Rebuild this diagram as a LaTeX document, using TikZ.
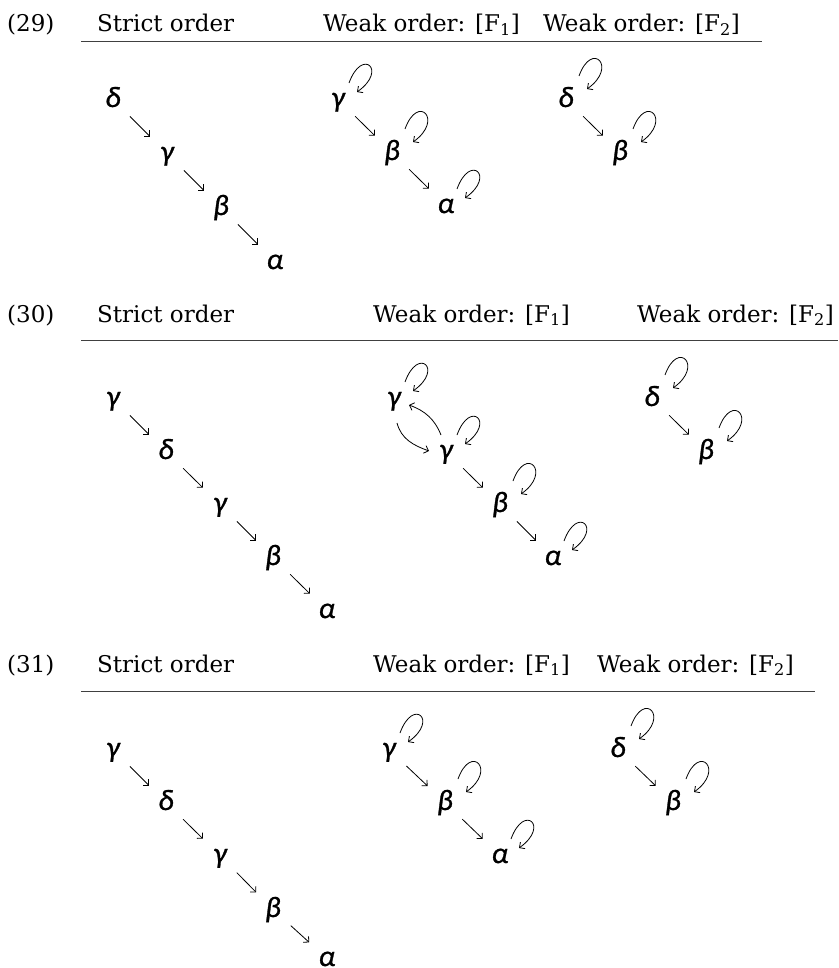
\documentclass[tikz,border=0pt]{standalone}
\usepackage{fontspec}
\setmainfont{DejaVu Serif}
\newfontfamily\grkfont{Carlito}[ItalicFeatures={FakeBold=1}]
\usetikzlibrary{arrows.meta}
\newcommand{\xloop}[1]{\draw[arr] ([shift={(11,24)}]#1.base) .. controls +(13,36) and +(31,22) .. ([shift={(19,15)}]#1.base);}
\newcommand{\aloop}[1]{\draw[arr] ([shift={(13,31)}]#1.base) .. controls +(13,36) and +(31,22) .. ([shift={(21,18)}]#1.base);}
\begin{document}
\begin{tikzpicture}[x=1pt,y=1pt,
  hd/.style={anchor=base west, inner sep=0pt, font=\fontsize{23}{28}\selectfont},
  gk/.style={anchor=base, inner sep=0pt, text height=19pt, text depth=4pt, font=\grkfont\itshape\fontsize{29.5}{32}\selectfont},
  arr/.style={line width=0.8pt, -{Straight Barb[length=4pt,width=8pt]}},
  sarr/.style={arr, shorten <=24pt, shorten >=24pt},
  rul/.style={line width=1pt, black!75}]
\useasboundingbox (0,0) rectangle (838,-968);

% ---------- (29)
\node[hd] (n29) at (7,-32) {(29)};
\node[hd] (s29) at (97,-32) {Strict order};
\node[hd] (wa29) at (323,-32) {Weak order: [F\textsubscript{1}]};
\node[hd] (wb29) at (543,-32) {Weak order: [F\textsubscript{2}]};
\draw[rul] (81,-42) -- (762,-42);

\node[gk] (a1) at (113,-107) {δ};
\node[gk] (a2) at (167,-161) {γ};
\node[gk] (a3) at (221,-215) {β};
\node[gk] (a4) at (275,-269) {α};
\draw[sarr] (a1.center) -- (a2.center);
\draw[sarr] (a2.center) -- (a3.center);
\draw[sarr] (a3.center) -- (a4.center);

\node[gk] (b1) at (338,-107) {γ};
\node[gk] (b2) at (392,-160) {β};
\node[gk] (b3) at (446,-213) {α};
\draw[sarr] (b1.center) -- (b2.center);
\draw[sarr] (b2.center) -- (b3.center);
\xloop{b1} \aloop{b2} \xloop{b3}

\node[gk] (c1) at (566,-107) {δ};
\node[gk] (c2) at (620,-160) {β};
\draw[sarr] (c1.center) -- (c2.center);
\aloop{c1} \aloop{c2}

% ---------- (30)
\node[hd] (n30) at (7,-322) {(30)};
\node[hd] (s30) at (97,-322) {Strict order};
\node[hd] (wa30) at (373,-322) {Weak order: [F\textsubscript{1}]};
\node[hd] (wb30) at (637,-322) {Weak order: [F\textsubscript{2}]};
\draw[rul] (81,-340) -- (838,-340);

\node[gk] (d1) at (113,-406) {γ};
\node[gk] (d2) at (166,-459) {δ};
\node[gk] (d3) at (220,-512) {γ};
\node[gk] (d4) at (273,-565) {β};
\node[gk] (d5) at (327,-618) {α};
\draw[sarr] (d1.center) -- (d2.center);
\draw[sarr] (d2.center) -- (d3.center);
\draw[sarr] (d3.center) -- (d4.center);
\draw[sarr] (d4.center) -- (d5.center);

\node[gk] (e1) at (394,-406) {γ};
\node[gk] (e2) at (446,-459) {γ};
\node[gk] (e3) at (500,-512) {β};
\node[gk] (e4) at (553,-565) {α};
\draw[arr] ([shift={(-5,24)}]e2.base) to[out=112,in=-20] ([shift={(15,1)}]e1.base);
\draw[arr] ([shift={(3,-17)}]e1.base) to[out=-75,in=160] ([shift={(-17,8)}]e2.base);
\draw[sarr] (e2.center) -- (e3.center);
\draw[sarr] (e3.center) -- (e4.center);
\xloop{e1} \xloop{e2} \aloop{e3} \xloop{e4}

\node[gk] (f1) at (652,-406) {δ};
\node[gk] (f2) at (706,-459) {β};
\draw[sarr] (f1.center) -- (f2.center);
\aloop{f1} \aloop{f2}

% ---------- (31)
\node[hd] (n31) at (7,-672) {(31)};
\node[hd] (s31) at (97,-672) {Strict order};
\node[hd] (wa31) at (373,-672) {Weak order: [F\textsubscript{1}]};
\node[hd] (wb31) at (597,-672) {Weak order: [F\textsubscript{2}]};
\draw[rul] (81,-691) -- (815,-691);

\node[gk] (g1) at (113,-757) {γ};
\node[gk] (g2) at (166,-810) {δ};
\node[gk] (g3) at (220,-863) {γ};
\node[gk] (g4) at (273,-917) {β};
\node[gk, text height=15pt, text depth=0pt] (g5) at (327,-966) {α};
\draw[sarr] (g1.center) -- (g2.center);
\draw[sarr] (g2.center) -- (g3.center);
\draw[sarr] (g3.center) -- (g4.center);
\draw[sarr] (g4.center) -- (g5.center);

\node[gk] (h1) at (389,-757) {γ};
\node[gk] (h2) at (445,-810) {β};
\node[gk] (h3) at (500,-863) {α};
\draw[sarr] (h1.center) -- (h2.center);
\draw[sarr] (h2.center) -- (h3.center);
\xloop{h1} \aloop{h2} \xloop{h3}

\node[gk] (k1) at (618,-757) {δ};
\node[gk] (k2) at (673,-810) {β};
\draw[sarr] (k1.center) -- (k2.center);
\aloop{k1} \aloop{k2}
\end{tikzpicture}
\end{document}
